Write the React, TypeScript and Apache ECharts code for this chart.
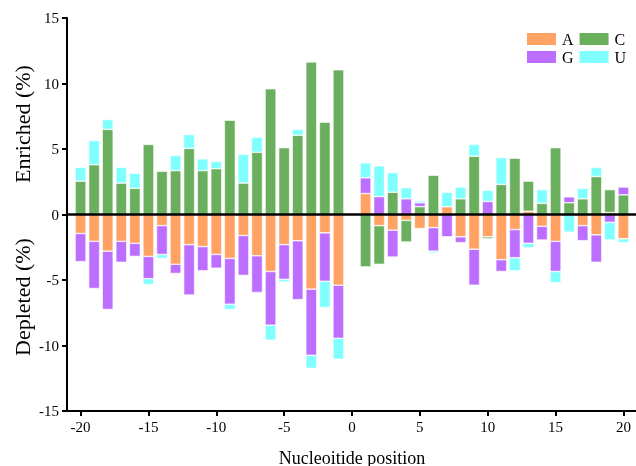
import React, { useEffect, useRef } from "react";
import * as echarts from "echarts";

const positions = [
  -20, -19, -18, -17, -16, -15, -14, -13, -12, -11, -10, -9, -8, -7, -6, -5, -4, -3, -2, -1,
  1, 2, 3, 4, 5, 6, 7, 8, 9, 10, 11, 12, 13, 14, 15, 16, 17, 18, 19, 20,
];

const valuesA = [
  -1.45, -2.05, -2.8, -2.05, -2.2, -3.2, -0.85, -3.8, -2.3, -2.45, -3.05, -3.35, -1.6, -3.15, -4.35, -2.3, -2.0, -5.7, -1.4, -5.4,
  1.6, -0.85, -1.2, -0.45, -1.07, -1.0, 0.6, -1.7, -2.65, -1.7, -3.45, -1.15, 0.25, -0.9, -2.05, 0, -0.85, -1.55, 0.15, -1.85,
];
const valuesC = [
  2.55, 3.8, 6.5, 2.4, 2.0, 5.35, 3.3, 3.35, 5.05, 3.35, 3.5, 7.2, 2.4, 4.75, 9.6, 5.1, 6.05, 11.65, 7.05, 11.05,
  -4.0, -2.95, 1.7, -1.65, 0.6, 3.0, 0, 1.2, 4.45, -0.15, 2.3, 4.3, 2.3, 0.85, 5.1, 0.9, 1.2, 2.9, 1.75, 1.5,
];
const valuesG = [
  -2.15, -3.6, -4.45, -1.6, -1.0, -1.7, -2.2, -0.7, -3.85, -1.85, -1.05, -3.5, -3.05, -2.8, -4.1, -2.65, -4.5, -5.05, -3.7, -4.05,
  1.2, 1.37, -2.05, 1.2, 0.3, -1.8, -1.7, -0.45, -2.75, 1.0, -0.9, -2.15, -2.2, -1.05, -2.3, 0.45, -1.15, -2.1, -0.6, 0.6,
];
const valuesU = [
  1.05, 1.85, 0.75, 1.2, 1.15, -0.45, -0.3, 1.15, 1.05, 0.9, 0.55, -0.4, 2.2, 1.15, -1.15, -0.2, 0.45, -1.0, -2.0, -1.6,
  1.15, 2.35, 1.5, 0.85, 0.15, -0.15, 1.1, 0.9, 0.9, 0.85, 2.05, -1.0, -0.35, 1.05, -0.85, -1.35, 0.8, 0.7, -1.35, -0.3,
];

// axis runs from -21 to 21; labelled ticks every 5 between -20 and 20
const AXIS_MIN = -21;
const AXIS_MAX = 21;
const TICK_STEP = 5;
const TICK_LIMIT = 20;

const seriesNames = ["A", "C", "G", "U"];
const seriesColors = ["#FFA263", "#6AAF5D", "#BC6EFF", "#80FFFF"];
const seriesValues = [valuesA, valuesC, valuesG, valuesU];

const FONT = "'Liberation Serif', 'Times New Roman', serif";

export default function App() {
  const ref = useRef<HTMLDivElement>(null);

  useEffect(() => {
    if (!ref.current) return;
    const chart = echarts.init(ref.current, undefined, { renderer: "svg" });

    const categories: string[] = [];
    for (let v = AXIS_MIN; v <= AXIS_MAX; v++) categories.push(String(v));

    const showTick = (_idx: number, value: string) => {
      const n = Number(value);
      return n % TICK_STEP === 0 && Math.abs(n) <= TICK_LIMIT;
    };

    const series: any[] = seriesNames.map((name, si) => {
      const data = categories.map((c) => {
        const i = positions.indexOf(Number(c));
        return i >= 0 ? seriesValues[si][i] : null;
      });
      return {
        name,
        type: "bar",
        stack: "total",
        barWidth: 11,
        itemStyle: { color: seriesColors[si], borderColor: "#fff", borderWidth: 0.6 },
        data,
        ...(si === 0
          ? {
              markLine: {
                silent: true,
                symbol: "none",
                label: { show: false },
                lineStyle: { color: "#000", width: 2.5, type: "solid" },
                data: [{ yAxis: 0 }],
                z: 10,
              },
            }
          : {}),
      };
    });

    const legendBase = {
      left: 525,
      orient: "horizontal",
      itemWidth: 31,
      itemHeight: 14,
      itemGap: 4,
      icon: "rect",
      padding: 0,
      textStyle: { fontFamily: FONT, fontSize: 16, color: "#000" },
    };

    chart.setOption({
      animation: false,
      grid: { left: 67, top: 18, width: 570, height: 393, outerBoundsMode: "none", containLabel: false },
      legend: [
        { ...legendBase, top: 31, data: ["A", "C"] },
        { ...legendBase, top: 49, data: ["G", "U"] },
      ],
      xAxis: {
        type: "category",
        data: categories,
        boundaryGap: false,
        axisLine: { onZero: false, lineStyle: { color: "#000", width: 2 } },
        axisTick: { interval: showTick, length: 5, lineStyle: { color: "#000", width: 2 } },
        axisLabel: {
          interval: showTick,
          fontFamily: FONT,
          fontSize: 15,
          color: "#000",
          margin: 8,
        },
        splitLine: { show: false },
        name: "Nucleoitide position",
        nameLocation: "middle",
        nameGap: 38,
        nameTextStyle: { fontFamily: FONT, fontSize: 18, color: "#000" },
      },
      yAxis: {
        type: "value",
        min: -15,
        max: 15,
        interval: 5,
        axisLine: { show: true, onZero: false, lineStyle: { color: "#000", width: 2 } },
        axisTick: { show: true, length: 5, lineStyle: { color: "#000", width: 2 } },
        axisLabel: { fontFamily: FONT, fontSize: 15, color: "#000", margin: 8 },
        splitLine: { show: false },
      },
      graphic: [
        {
          type: "text",
          x: 22,
          y: 124,
          rotation: Math.PI / 2,
          style: {
            text: "Enriched (%)",
            font: `22px ${FONT}`,
            fill: "#000",
            textAlign: "center",
            textVerticalAlign: "middle",
          },
        },
        {
          type: "text",
          x: 22,
          y: 297,
          rotation: Math.PI / 2,
          style: {
            text: "Depleted (%)",
            font: `22px ${FONT}`,
            fill: "#000",
            textAlign: "center",
            textVerticalAlign: "middle",
          },
        },
      ],
      series,
    });

    return () => chart.dispose();
  }, []);

  return (
    <div
      ref={ref}
      style={{ position: "fixed", left: 0, top: 0, width: 636, height: 466 }}
    />
  );
}
